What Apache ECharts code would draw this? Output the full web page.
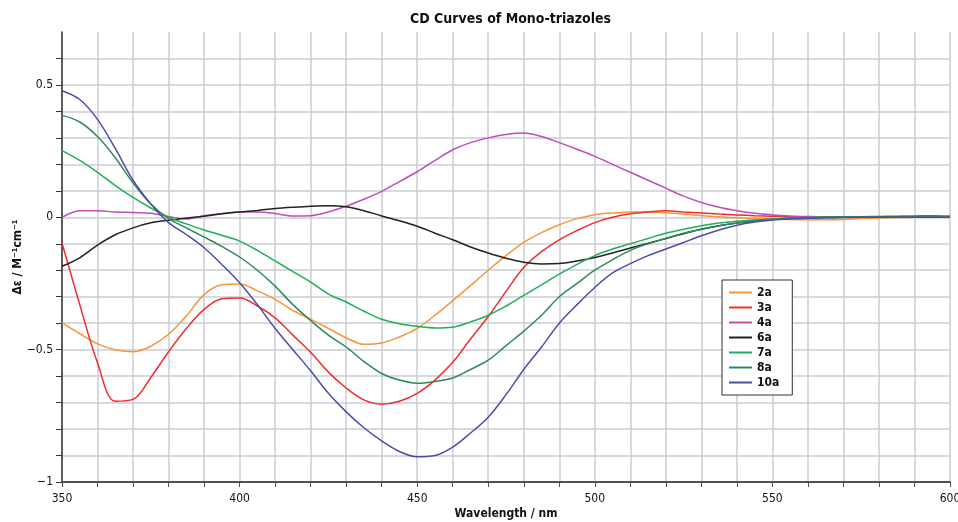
<!DOCTYPE html>
<html>
<head>
<meta charset="utf-8">
<script src="https://cdn.jsdelivr.net/npm/echarts@6/dist/echarts.min.js"></script>
<style>
html,body{margin:0;padding:0;background:#fff;}
#chart{width:958px;height:522px;}
</style>
</head>
<body>
<div id="chart"></div>
<script>
// Wavelength (nm)
var wavelengths = [350,355,360,365,370,375,380,385,390,395,400,405,410,415,420,425,430,435,440,445,450,455,460,465,470,475,480,485,490,495,500,505,510,515,520,525,530,535,540,545,550,555,560,565,570,575,580,585,590,595,600];

var s2a = [-0.398,-0.44,-0.478,-0.5,-0.508,-0.487,-0.442,-0.373,-0.292,-0.255,-0.252,-0.278,-0.31,-0.352,-0.385,-0.42,-0.455,-0.48,-0.475,-0.452,-0.42,-0.37,-0.315,-0.258,-0.2,-0.145,-0.095,-0.058,-0.028,-0.005,0.01,0.016,0.02,0.02,0.017,0.012,0.006,0.002,-0.002,-0.004,-0.006,-0.008,-0.009,-0.009,-0.008,-0.005,-0.003,-0.001,0,0,0];
var s3a = [-0.097,-0.33,-0.55,-0.695,-0.688,-0.605,-0.508,-0.42,-0.348,-0.308,-0.305,-0.335,-0.38,-0.445,-0.51,-0.585,-0.645,-0.69,-0.706,-0.695,-0.665,-0.615,-0.548,-0.46,-0.375,-0.28,-0.19,-0.13,-0.085,-0.05,-0.02,0.0,0.013,0.02,0.025,0.02,0.016,0.012,0.009,0.006,0.004,0.002,0.001,0.001,0.002,0.002,0.003,0.004,0.005,0.006,0.005];
var s4a = [0.0,0.025,0.025,0.02,0.018,0.015,0.003,-0.006,0.006,0.014,0.02,0.02,0.014,0.005,0.006,0.02,0.042,0.068,0.098,0.135,0.172,0.215,0.255,0.282,0.3,0.313,0.318,0.305,0.282,0.257,0.23,0.2,0.17,0.14,0.11,0.08,0.056,0.038,0.025,0.015,0.009,0.005,0.003,0.002,0.002,0.001,0.001,0.001,0,0,0];
var s6a = [-0.185,-0.153,-0.105,-0.066,-0.04,-0.021,-0.011,-0.003,0.004,0.013,0.02,0.026,0.033,0.038,0.042,0.044,0.04,0.025,0.005,-0.013,-0.034,-0.06,-0.085,-0.112,-0.135,-0.155,-0.17,-0.176,-0.175,-0.165,-0.152,-0.135,-0.116,-0.098,-0.08,-0.062,-0.045,-0.032,-0.022,-0.014,-0.008,-0.004,-0.002,-0.001,0,0,0,0,0,0,0];
var s7a = [0.252,0.215,0.17,0.12,0.075,0.035,0.0,-0.025,-0.048,-0.068,-0.09,-0.125,-0.165,-0.205,-0.245,-0.29,-0.32,-0.355,-0.385,-0.402,-0.412,-0.418,-0.415,-0.395,-0.37,-0.335,-0.295,-0.255,-0.215,-0.178,-0.145,-0.12,-0.1,-0.08,-0.06,-0.045,-0.032,-0.022,-0.015,-0.01,-0.006,-0.003,-0.001,0,0,0,0,0,0,0,0];
var s8a = [0.385,0.36,0.305,0.225,0.13,0.05,-0.005,-0.04,-0.075,-0.11,-0.15,-0.2,-0.26,-0.33,-0.39,-0.445,-0.49,-0.545,-0.59,-0.615,-0.627,-0.62,-0.607,-0.575,-0.54,-0.485,-0.43,-0.37,-0.3,-0.25,-0.2,-0.16,-0.125,-0.1,-0.08,-0.06,-0.045,-0.032,-0.022,-0.013,-0.008,-0.004,-0.002,0,0,0,0,0,0,0,0];
var s10a = [0.478,0.445,0.37,0.26,0.14,0.05,-0.02,-0.065,-0.115,-0.178,-0.247,-0.33,-0.42,-0.5,-0.58,-0.665,-0.735,-0.795,-0.845,-0.885,-0.905,-0.9,-0.868,-0.815,-0.755,-0.67,-0.575,-0.49,-0.4,-0.33,-0.265,-0.21,-0.175,-0.145,-0.12,-0.095,-0.07,-0.048,-0.03,-0.018,-0.01,-0.006,-0.004,-0.002,-0.001,0,0,0,0,0,0];

var seriesNames = ['2a','3a','4a','6a','7a','8a','10a'];
var seriesValues = [s2a,s3a,s4a,s6a,s7a,s8a,s10a];
var seriesColors = ['#F7953A','#EE2E2E','#BC4FBC','#222222','#1FAF5A','#2E8B57','#4A4EA8'];

var FONT = "'DejaVu Sans Condensed','DejaVu Sans',sans-serif";

var chart = echarts.init(document.getElementById('chart'), null, {renderer:'canvas'});

var series = seriesNames.map(function(n, k){
  return {
    name: n,
    type: 'line',
    smooth: 0.35,
    symbol: 'none',
    lineStyle: {width: 1.5, color: seriesColors[k]},
    itemStyle: {color: seriesColors[k]},
    data: wavelengths.map(function(x, i){ return [x, seriesValues[k][i]]; }),
    animation: false
  };
});

chart.setOption({
  animation: false,
  backgroundColor: '#fff',
  title: {
    text: 'CD Curves of Mono-triazoles',
    left: 410, top: 12, padding: 0,
    textStyle: {fontFamily: FONT, fontSize: 14, fontWeight: 'bold', color: '#111'}
  },
  legend: {
    data: seriesNames,
    orient: 'vertical',
    left: 722, top: 280,
    padding: [5, 13, 5, 7],
    itemGap: 0,
    itemWidth: 23, itemHeight: 2,
    itemTextGap: 6,
    icon: 'rect',
    borderColor: '#333', borderWidth: 1,
    backgroundColor: '#fff',
    textStyle: {fontFamily: FONT, fontSize: 12, fontWeight: 'bold', color: '#111', lineHeight: 15}
  },
  grid: {left: 62, right: 8, top: 32, bottom: 40, containLabel: false, outerBoundsMode: 'none'},
  xAxis: {
    type: 'value', min: 350, max: 600, interval: 10,
    name: 'Wavelength / nm', nameLocation: 'middle', nameGap: 26,
    nameMoveOverlap: false,
    nameTextStyle: {fontFamily: FONT, fontSize: 12, fontWeight: 'bold', color: '#111'},
    axisLine: {show: true, onZero: false, lineStyle: {color: '#505050', width: 2}},
    axisTick: {show: true, length: 5, lineStyle: {color: '#505050', width: 1}},
    axisLabel: {
      fontFamily: FONT, fontSize: 12, color: '#111', margin: 11,
      formatter: function(v){ return (Math.round(v) % 50 === 0) ? String(Math.round(v)) : ''; }
    },
    splitLine: {show: true, lineStyle: {color: '#cbcdd4', width: 1.5}}
  },
  yAxis: {
    type: 'value', min: -1, max: 0.7, interval: 0.1,
    name: 'Δε / M⁻¹cm⁻¹', nameLocation: 'middle', nameGap: 38, nameRotate: 90,
    nameMoveOverlap: false,
    nameTextStyle: {fontFamily: FONT, fontSize: 12, fontWeight: 'bold', color: '#111'},
    axisLine: {show: true, onZero: false, lineStyle: {color: '#333', width: 1.5}},
    axisTick: {show: true, length: 6, lineStyle: {color: '#333', width: 1}},
    axisLabel: {
      fontFamily: FONT, fontSize: 12, color: '#111', margin: 9,
      showMaxLabel: false,
      formatter: function(v){
        var r = Math.round(v * 10);
        if (r % 5 !== 0) return '';
        if (r === 0) return '0';
        var s = String(Math.abs(r) / 10);
        return (r < 0 ? '\u2212' : '') + s;
      }
    },
    splitLine: {show: true, showMaxLine: false, lineStyle: {color: '#cbcdd4', width: 1.5}}
  },
  series: series
});
</script>
</body>
</html>
